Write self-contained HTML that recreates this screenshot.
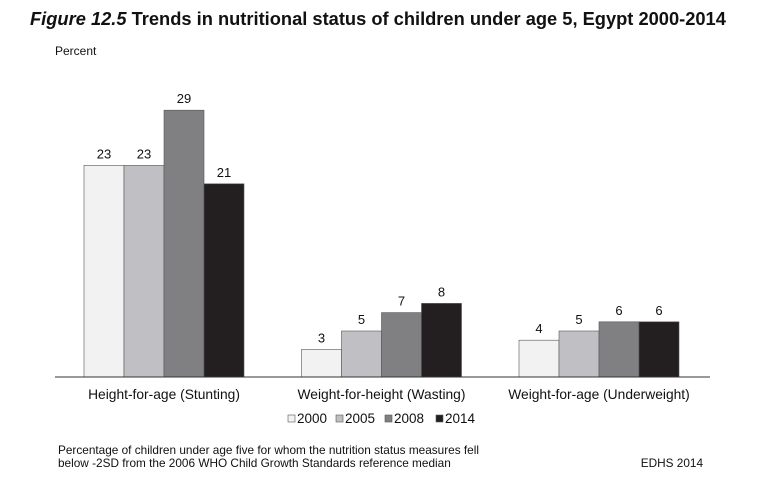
<!DOCTYPE html>
<html><head><meta charset="utf-8"><style>
body{margin:0;background:#fff;width:775px;height:473px;overflow:hidden;font-family:"Liberation Sans",Arial,sans-serif}
</style></head><body>
<svg width="775" height="473" id="svg" font-family="Liberation Sans, Arial, sans-serif">
<text x="30" y="25" font-size="18.3" font-weight="bold" fill="#111"><tspan font-style="italic">Figure 12.5</tspan>  Trends in nutritional status of children under age 5, Egypt 2000-2014</text>
<text x="55" y="55" font-size="12" fill="#111">Percent</text>
<g id="bars"></g>
<line x1="55" y1="377" x2="710" y2="377" stroke="#333" stroke-width="1"/>
<g id="legend" font-size="13.5"></g>
<text x="58" y="454" font-size="11.8" fill="#111">Percentage of children under age five for whom the nutrition status measures fell</text>
<text x="58" y="467" font-size="11.8" fill="#111">below -2SD from the 2006 WHO Child Growth Standards reference median</text>
<text x="703" y="467" font-size="11.8" fill="#111" text-anchor="end">EDHS 2014</text>
</svg>
<script>
const categories=["Height-for-age (Stunting)","Weight-for-height (Wasting)","Weight-for-age (Underweight)"];
const seriesNames=["2000","2005","2008","2014"];
const s2000=[23,3,4];
const s2005=[23,5,5];
const s2008=[29,7,6];
const s2014=[21,8,6];
const series=[s2000,s2005,s2008,s2014];
const colors=["#f2f2f2","#c0c0c4","#808083","#231f20"];
const NS="http://www.w3.org/2000/svg";
const base=377, scale=9.2;
const y=v=>base-v*scale;
const groupX=i=>164+i*217.5;
const bw=40;
const g=document.getElementById('bars');
function mk(t,a){const e=document.createElementNS(NS,t);for(const k in a)e.setAttribute(k,a[k]);return e;}
categories.forEach((c,i)=>{
  series.forEach((s,j)=>{
    const x=groupX(i)-2*bw+j*bw;
    const r=mk('rect',{x:x,y:y(s[i]),width:bw,height:base-y(s[i]),fill:colors[j],stroke:"#555","stroke-width":0.6});
    
    
    g.appendChild(r);
    const t=mk('text',{x:x+bw/2,y:y(s[i])-7,"font-size":13,"text-anchor":"middle",fill:"#111"});
    t.textContent=s[i];
    
    
    g.appendChild(t);
  });
  const l=mk('text',{x:groupX(i),y:399,"font-size":13.8,"text-anchor":"middle",fill:"#111"});
  l.textContent=c;
  
  
  g.appendChild(l);
});
const lg=document.getElementById('legend');
const lx=[288,336,385,436];
seriesNames.forEach((n,j)=>{
  const r=mk('rect',{x:lx[j],y:415,width:7,height:7,fill:colors[j],stroke:"#555","stroke-width":0.6});
  
  
  lg.appendChild(r);
  const t=mk('text',{x:lx[j]+9,y:423,fill:"#111"});
  t.textContent=n;
  
  
  lg.appendChild(t);
});
</script>
</body></html>
